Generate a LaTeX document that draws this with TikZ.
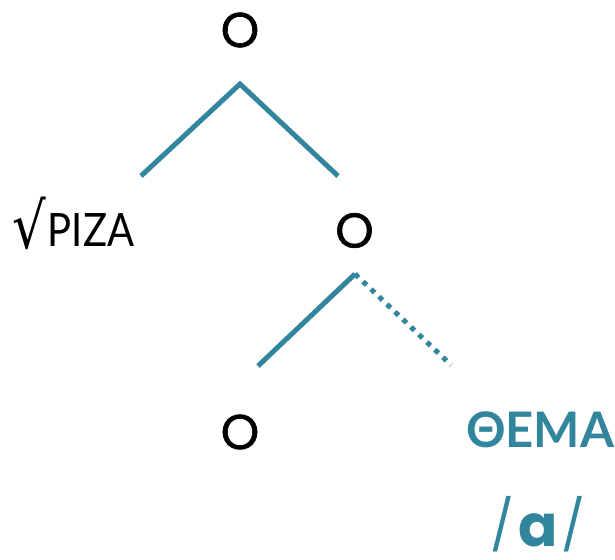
\documentclass[tikz,border=0pt]{standalone}
\usepackage{fontspec}
\setmainfont{Poppins}
\newfontfamily\ofont{Poppins}[FakeBold=1.2]
\newfontfamily\grk{Lato}
\newfontfamily\symf{DejaVu Sans}
\definecolor{tealc}{HTML}{31859C}
\begin{document}
\begin{tikzpicture}[x=1pt,y=-1pt,
  branch/.style={draw=tealc,line width=5pt},
  dotbranch/.style={draw=tealc,line width=5pt,dash pattern=on 5pt off 6pt},
  nodeO/.style={inner sep=0pt,anchor=center,font=\fontsize{49}{49}\ofont},
  lbl/.style={inner sep=0pt,anchor=base west,font=\fontsize{46}{46}\selectfont},
  tlbl/.style={inner sep=0pt,anchor=base west,text=tealc,font=\fontsize{49}{49}\selectfont\bfseries}]
\useasboundingbox (0,0) rectangle (615,559);
\node[nodeO] (o1) at (240,30) {O};
\node[nodeO] (o2) at (354.5,230.5) {O};
\node[nodeO] (o3) at (240,432) {O};
\node[lbl] (root) at (12,246) {\raisebox{-2pt}{\scalebox{1.15}[1.38]{\symf √}}\kern2pt\scalebox{0.87}[1]{\grk ΡΙΖΑ}};
\node[tlbl] (theme) at (466,447) {\grk ΘΕΜΑ};
\node[tlbl] (vowel) at (490,546) {\raisebox{3pt}{\fontsize{50}{50}\mdseries/}\kern4pt{\fontsize{58}{58}\selectfont a}\kern4pt\raisebox{3pt}{\fontsize{50}{50}\mdseries/}};
\coordinate (t1) at (240,84);
\coordinate (l1) at (141,176);
\coordinate (r1) at (338,176);
\coordinate (t2) at (355,274);
\coordinate (l2) at (258,366);
\coordinate (r2) at (451,365);
\draw[branch] (l1) -- (t1) -- (r1);
\draw[branch] (l2) -- (t2);
\draw[dotbranch] (t2) -- (r2);
\end{tikzpicture}
\end{document}
